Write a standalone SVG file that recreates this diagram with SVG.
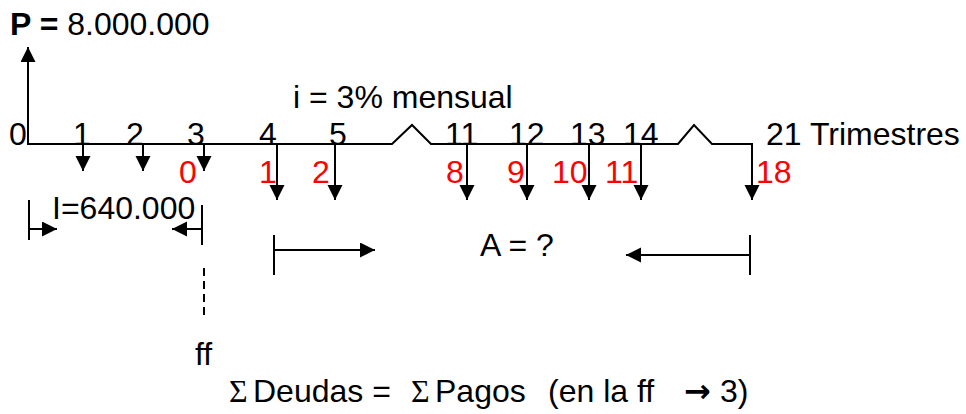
<svg xmlns="http://www.w3.org/2000/svg" width="966" height="414" viewBox="0 0 966 414">
<style>
text{font-family:"Liberation Sans",Arial,sans-serif;font-size:32px;fill:#000}
.red{fill:#ff0000}
.ln{stroke:#000;stroke-width:2;fill:none}
.ar{stroke:#000;stroke-width:2;fill:none;marker-end:url(#ah)}
</style>
<defs>
<marker id="ah" markerUnits="userSpaceOnUse" markerWidth="16" markerHeight="16" refX="15" refY="7.5" orient="auto">
<path d="M0,0 L15,7.5 L0,15 Z" fill="#000"/>
</marker>
</defs>
<rect width="966" height="414" fill="#fff"/>
<g id="connectors">
<polyline class="ln" points="27,144 392,144 412,125 431,144 678,144 694,125 712,144 753,144"/>
<line class="ar" x1="28" y1="144" x2="28" y2="47"/>
<line class="ar" x1="83" y1="144" x2="83" y2="171"/>
<line class="ar" x1="143" y1="144" x2="143" y2="171"/>
<line class="ar" x1="204" y1="144" x2="204" y2="171"/>
<line class="ar" x1="277" y1="144" x2="277" y2="200"/>
<line class="ar" x1="335" y1="144" x2="335" y2="200"/>
<line class="ar" x1="467" y1="144" x2="467" y2="200"/>
<line class="ar" x1="527" y1="144" x2="527" y2="200"/>
<line class="ar" x1="589" y1="144" x2="589" y2="200"/>
<line class="ar" x1="641" y1="144" x2="641" y2="200"/>
<line class="ar" x1="752" y1="144" x2="752" y2="200"/>
<line class="ln" x1="29" y1="200" x2="29" y2="240"/>
<line class="ar" x1="29" y1="229" x2="57" y2="229"/>
<line class="ln" x1="202" y1="205" x2="202" y2="245"/>
<line class="ar" x1="202" y1="229" x2="172" y2="229"/>
<line class="ln" x1="204" y1="268" x2="204" y2="315" stroke-dasharray="8 5"/>
<line class="ln" x1="274" y1="235" x2="274" y2="275"/>
<line class="ar" x1="274" y1="250" x2="375" y2="250"/>
<line class="ln" x1="750" y1="235" x2="750" y2="275"/>
<line class="ar" x1="750" y1="255" x2="626" y2="255"/>
</g>
<g id="title"><text x="10" y="35"><tspan font-weight="bold">P =</tspan> 8.000.000</text></g>
<g id="rate"><text x="293" y="108">i = 3% mensual</text></g>
<g id="ticks">
<text x="9" y="145">0</text>
<text x="73" y="145">1</text>
<text x="126" y="145">2</text>
<text x="187" y="145">3</text>
<text x="259" y="145">4</text>
<text x="329" y="145">5</text>
<text x="445" y="145">11</text>
<text x="509" y="145">12</text>
<text x="570" y="145">13</text>
<text x="623" y="145">14</text>
<text x="766" y="145">21 Trimestres</text>
</g>
<g id="payments">
<text class="red" x="179" y="183">0</text>
<text class="red" x="259" y="183">1</text>
<text class="red" x="312" y="183">2</text>
<text class="red" x="446" y="183">8</text>
<text class="red" x="507" y="183">9</text>
<text class="red" x="552" y="183">10</text>
<text class="red" x="605" y="183">11</text>
<text class="red" x="756" y="183">18</text>
</g>
<g id="interest"><text x="52" y="219">I=640.000</text></g>
<g id="annuity"><text x="480" y="256">A = ?</text></g>
<g id="ff"><text x="195" y="365">ff</text></g>
<g id="equation"><text y="402"><tspan x="229" font-family="'Liberation Serif',serif">Σ</tspan><tspan x="253">Deudas =</tspan><tspan x="411" font-family="'Liberation Serif',serif">Σ</tspan><tspan x="435">Pagos</tspan><tspan x="548">(en la ff</tspan><tspan x="684" font-family="'DejaVu Sans',sans-serif" font-size="32" font-weight="bold">→</tspan><tspan x="720">3)</tspan></text></g>
</svg>
